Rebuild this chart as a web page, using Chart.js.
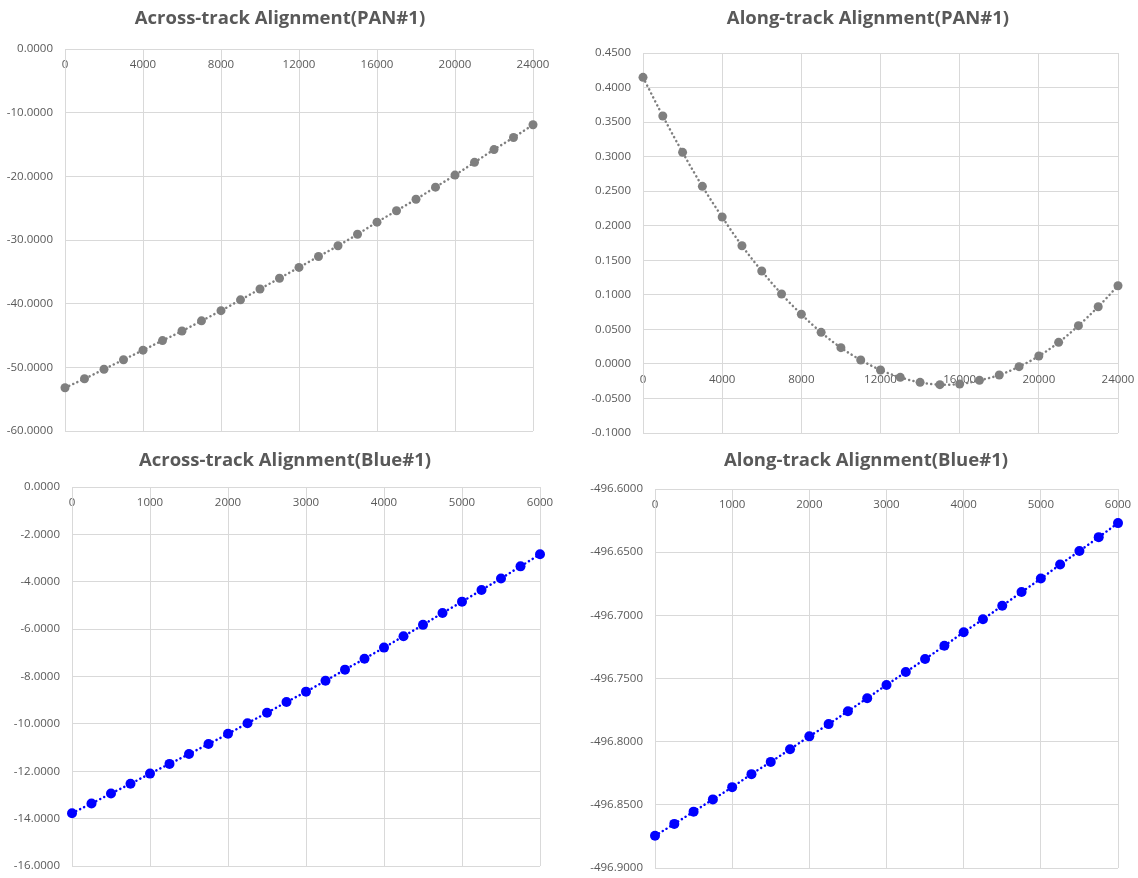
<!DOCTYPE html>
<html><head><meta charset="utf-8">
<script src="https://cdn.jsdelivr.net/npm/chart.js@4.4.0/dist/chart.umd.min.js"></script>
<style>
html,body{margin:0;padding:0;background:#fff;overflow:hidden;width:1138px;height:878px;position:relative;}
canvas{position:absolute;}
</style></head><body>
<canvas id="c1"></canvas>
<canvas id="c2"></canvas>
<canvas id="c3"></canvas>
<canvas id="c4"></canvas>
<script>
// ---------- data ----------
const panX = [0,1000,2000,3000,4000,5000,6000,7000,8000,9000,10000,11000,12000,13000,14000,15000,16000,17000,18000,19000,20000,21000,22000,23000,24000];
const panAcross = [-53.2,-51.8,-50.3,-48.8,-47.3,-45.8,-44.3,-42.7,-41.1,-39.4,-37.7,-36.0,-34.3,-32.6,-30.9,-29.1,-27.2,-25.4,-23.6,-21.7,-19.8,-17.8,-15.8,-13.9,-11.9];
const panAlong = [0.4148,0.3588,0.3062,0.2570,0.2126,0.1711,0.1345,0.1012,0.0718,0.0457,0.0235,0.0057,-0.0088,-0.0194,-0.0267,-0.0300,-0.0290,-0.0238,-0.0160,-0.0040,0.0114,0.0312,0.0554,0.0828,0.1132];
const blueX = [0,250,500,750,1000,1250,1500,1750,2000,2250,2500,2750,3000,3250,3500,3750,4000,4250,4500,4750,5000,5250,5500,5750,6000];
const blueAcross = [-13.77,-13.36,-12.94,-12.53,-12.10,-11.69,-11.27,-10.85,-10.42,-9.97,-9.53,-9.08,-8.64,-8.18,-7.71,-7.25,-6.78,-6.30,-5.82,-5.32,-4.84,-4.35,-3.86,-3.35,-2.84];
const blueAlong = [-496.8745,-496.8651,-496.8554,-496.8457,-496.8360,-496.8257,-496.8160,-496.8060,-496.7958,-496.7861,-496.7759,-496.7656,-496.7551,-496.7449,-496.7346,-496.7241,-496.7134,-496.7031,-496.6924,-496.6816,-496.6709,-496.6598,-496.6491,-496.6381,-496.6270];
const titles = ["Across-track Alignment(PAN#1)","Along-track Alignment(PAN#1)","Across-track Alignment(Blue#1)","Along-track Alignment(Blue#1)"];
const yRanges = [[-60,0,10],[-0.1,0.45,0.05],[-16,0,2],[-496.9,-496.6,0.05]];
const xRanges = [[0,24000,4000],[0,24000,4000],[0,6000,1000],[0,6000,1000]];
const xCross = [0,0,0,-496.6];

// ---------- layout (page pixels) ----------
const layoutSpecs = [
  {id:'c1', left:0,   top:0,   plotL:65,  plotR:533,  plotT:49,  plotB:431, tcx:280, tcy:19},
  {id:'c2', left:588, top:0,   plotL:643, plotR:1118, plotT:53,  plotB:433, tcx:868, tcy:19},
  {id:'c3', left:0,   top:440, plotL:72,  plotR:540,  plotT:487, plotB:866, tcx:285, tcy:461},
  {id:'c4', left:583, top:440, plotL:655, plotR:1118, plotT:489, plotB:868, tcx:866, tcy:461}
];
const GRAY = '#7f7f7f', BLUE = '#0000ff', TEXT = '#595959', GRID = '#d9d9d9';
const TITLE_FS = 18.5, PAD_B = 10;

function makeChart(i, xs, ys, color, radius) {
  const s = layoutSpecs[i];
  const cv = document.getElementById(s.id);
  const W = 2 * (s.tcx - s.left);
  const H = s.plotB - s.top + PAD_B;
  cv.width = W; cv.height = H;
  cv.style.left = s.left + 'px'; cv.style.top = s.top + 'px';
  cv.style.width = W + 'px'; cv.style.height = H + 'px';
  const rightGap = s.left + W - s.plotR;
  const lh = TITLE_FS * 1.2;
  const tPadTop = s.tcy - s.top - lh / 2;
  const tPadBot = s.plotT - s.top - tPadTop - lh;
  const yAxisW = s.plotL - s.left;
  const [ymin, ymax, ystep] = yRanges[i];
  const [xmin, xmax, xstep] = xRanges[i];
  const pts = xs.map((x, k) => ({x: x, y: ys[k]}));
  new Chart(cv, {
    type: 'scatter',
    data: {datasets: [{
      data: pts, showLine: true, borderColor: color, borderWidth: 2.5,
      borderDash: [0.1, 4.4], borderCapStyle: 'round', tension: 0.4,
      pointRadius: radius, pointBackgroundColor: color, pointBorderColor: color,
      pointBorderWidth: 0, clip: false
    }]},
    options: {
      responsive: false, animation: false, devicePixelRatio: 1,
      layout: {padding: {left: 0, right: 0, top: 0, bottom: PAD_B}},
      plugins: {
        legend: {display: false}, tooltip: {enabled: false},
        title: {display: true, text: titles[i], color: TEXT,
          font: {family: 'Open Sans', size: TITLE_FS, weight: 'bold', lineHeight: 1.2},
          padding: {top: tPadTop, bottom: tPadBot}}
      },
      scales: {
        x: {type: 'linear', min: xmin, max: xmax, position: {y: xCross[i]},
          ticks: {stepSize: xstep, autoSkip: false, maxRotation: 0, color: TEXT, padding: 9,
            font: {family: 'Open Sans', size: 11.5}, callback: v => String(v)},
          grid: {color: GRID, drawTicks: false},
          border: {color: GRID},
          afterFit: sc => { sc.paddingLeft = 0; sc.paddingRight = rightGap; sc.paddingTop = 0; sc.paddingBottom = 0; }
        },
        y: {type: 'linear', min: ymin, max: ymax, position: 'left',
          ticks: {stepSize: ystep, color: TEXT, padding: 12,
            font: {family: 'Open Sans', size: 11.5},
            callback: v => (Math.abs(v) < 1e-9 ? 0 : v).toFixed(4)},
          grid: {color: GRID, drawTicks: false},
          border: {color: GRID},
          afterFit: sc => { sc.width = yAxisW; sc.paddingTop = 0; sc.paddingBottom = 0; }
        }
      }
    }
  });
}
makeChart(0, panX, panAcross, GRAY, 4.5);
makeChart(1, panX, panAlong, GRAY, 4.5);
makeChart(2, blueX, blueAcross, BLUE, 5);
makeChart(3, blueX, blueAlong, BLUE, 5);
</script>
</body></html>
